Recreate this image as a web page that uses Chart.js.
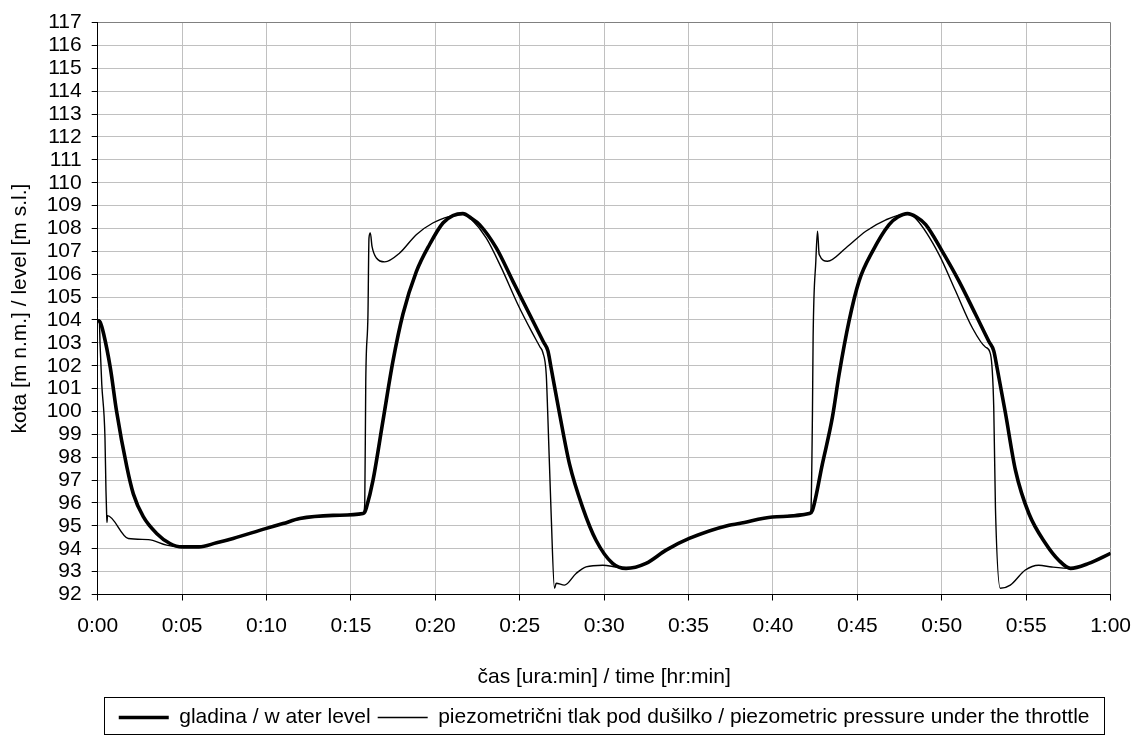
<!DOCTYPE html>
<html>
<head>
<meta charset="utf-8">
<script src="https://cdn.jsdelivr.net/npm/chart.js@4/dist/chart.umd.min.js"></script>
<style>
  html, body { margin: 0; padding: 0; background: #fff; }
  #wrap { width: 1144px; height: 735px; position: relative; }
</style>
</head>
<body>
<div id="wrap"><canvas id="chart"></canvas></div>
<script>
// time in minutes, level in m a.s.l.
const levelTime = [0, 0.15, 0.35, 0.75, 1.12, 1.72, 2.11, 2.7, 3.49, 4.28, 5.0, 6.0, 7.04, 8.02, 9.94, 10.98, 11.97, 13.94, 15.72, 15.82, 15.92, 16.31, 16.9, 17.49, 18.08, 18.87, 19.66, 20.45, 21.04, 21.63, 22.13, 22.62, 23.61, 24.59, 25.58, 26.4, 26.67, 26.86, 27.36, 27.95, 28.73, 29.52, 30.5, 31.3, 32.48, 33.67, 35.04, 37.4, 38.0, 39.97, 42.15, 42.34, 42.93, 43.52, 43.92, 44.51, 45.1, 45.9, 46.88, 47.4, 47.97, 48.5, 49.05, 50.03, 51.02, 52.0, 52.8, 53.08, 53.28, 53.78, 54.37, 55.16, 56.15, 56.93, 57.63, 58.71, 60];
const levelValue = [104.0, 103.9, 103.4, 101.9, 100.0, 97.6, 96.4, 95.4, 94.67, 94.23, 94.08, 94.08, 94.26, 94.45, 94.88, 95.1, 95.32, 95.46, 95.54, 95.6, 95.8, 97.0, 99.6, 102.2, 104.25, 106.1, 107.3, 108.24, 108.56, 108.65, 108.45, 108.17, 107.15, 105.7, 104.25, 103.05, 102.65, 101.9, 99.9, 97.7, 95.8, 94.37, 93.36, 93.14, 93.36, 93.94, 94.45, 95.03, 95.1, 95.39, 95.54, 95.68, 97.71, 99.74, 101.63, 103.96, 105.7, 107.0, 108.17, 108.5, 108.65, 108.5, 108.17, 107.0, 105.7, 104.25, 103.05, 102.65, 101.9, 99.9, 97.42, 95.54, 94.23, 93.5, 93.14, 93.36, 93.8];

const pressureTime = [0, 0.1, 0.14, 0.24, 0.43, 0.49, 0.53, 0.55, 0.58, 1.81, 3.0, 4.08, 4.9, 6.0, 7.04, 8.02, 9.94, 10.98, 11.97, 13.94, 15.72, 15.82, 15.88, 16.01, 16.07, 16.15, 16.25, 16.51, 17.0, 17.89, 18.87, 19.85, 20.85, 21.63, 22.13, 23.02, 23.9, 24.89, 25.7, 26.2, 26.37, 26.57, 26.66, 26.86, 27.06, 27.16, 27.65, 28.34, 28.93, 29.92, 30.7, 31.3, 32.48, 33.67, 35.04, 37.4, 38.0, 39.97, 42.15, 42.25, 42.34, 42.38, 42.54, 42.64, 42.74, 43.23, 44.32, 45.5, 46.69, 47.97, 48.5, 49.84, 50.8, 51.81, 52.6, 52.89, 53.08, 53.18, 53.47, 54.06, 54.95, 55.74, 56.52, 57.63, 58.71, 60];
const pressureValue = [104.0, 103.9, 102.94, 101.2, 98.87, 96.55, 95.5, 95.15, 95.45, 94.45, 94.4, 94.16, 94.08, 94.08, 94.26, 94.45, 94.88, 95.1, 95.32, 95.46, 95.54, 95.97, 101.34, 104.25, 107.58, 107.8, 107.22, 106.71, 106.54, 106.93, 107.73, 108.24, 108.53, 108.65, 108.4, 107.58, 106.3, 104.68, 103.5, 102.82, 102.58, 101.63, 99.9, 95.54, 92.27, 92.49, 92.41, 92.92, 93.21, 93.28, 93.2, 93.14, 93.36, 93.94, 94.45, 95.03, 95.1, 95.39, 95.54, 95.68, 99.9, 103.23, 106.57, 107.88, 106.86, 106.57, 107.15, 107.88, 108.38, 108.65, 108.4, 106.86, 105.3, 103.66, 102.81, 102.5, 100.18, 95.8, 92.27, 92.41, 93.07, 93.28, 93.2, 93.14, 93.36, 93.8];

const seriesLabels = [
  "gladina / w ater level",
  "piezometrični tlak pod dušilko / piezometric pressure under the throttle",
];
const xTitle = "čas [ura:min] / time [hr:min]";
const yTitle = "kota [m n.m.] / level [m s.l.]";
const xMin = 0, xMax = 60, xStep = 5;
const yMin = 92, yMax = 117, yStep = 1;

const toPoints = (xs, ys) => xs.map((x, i) => ({ x, y: ys[i] }));
const fmtTime = (v) => `${Math.floor(v / 60)}:${String(v % 60).padStart(2, "0")}`;

Chart.defaults.font.family = "'Liberation Sans', Arial, sans-serif";
Chart.defaults.font.size = 21;
Chart.defaults.color = "#000";

// frame around the legend, like the spreadsheet original
const legendFrame = {
  id: "legendFrame",
  afterDraw(chart) {
    if (!chart.legend) return;
    const { ctx, chartArea } = chart;
    const left = Math.round(chartArea.left + 6) + 0.5;
    const right = Math.round(chartArea.right - 7) + 0.5;
    const top = Math.round(chart.legend.top - 3) + 0.5;
    ctx.save();
    ctx.strokeStyle = "#000";
    ctx.lineWidth = 1;
    ctx.strokeRect(left, top, right - left, 37);
    ctx.restore();
  },
};

const gridColor = (edgeValue, axisValue) => (c) => {
  if (!c.tick) return "#c0c0c0";
  if (c.tick.value === axisValue) return "#000";
  if (c.tick.value === edgeValue) return "#808080";
  return "#c0c0c0";
};

new Chart(document.getElementById("chart"), {
  type: "line",
  data: {
    datasets: [
      {
        label: seriesLabels[0],
        data: toPoints(levelTime, levelValue),
        borderColor: "#000",
        borderWidth: 3.6,
        pointRadius: 0,
        pointBorderWidth: 3.6,
        pointBorderColor: "#000",
        pointStyle: "line",
        cubicInterpolationMode: "monotone",
        fill: false,
      },
      {
        label: seriesLabels[1],
        data: toPoints(pressureTime, pressureValue),
        borderColor: "#000",
        borderWidth: 1.4,
        pointRadius: 0,
        pointBorderWidth: 1.4,
        pointBorderColor: "#000",
        pointStyle: "line",
        cubicInterpolationMode: "monotone",
        fill: false,
      },
    ],
  },
  options: {
    responsive: true,
    maintainAspectRatio: false,
    animation: false,
    events: [],
    layout: {
      padding: { top: 20.5, right: 32.3, left: 0, bottom: -3 },
    },
    plugins: {
      tooltip: { enabled: false },
      legend: {
        position: "bottom",
        fullSize: false,
        labels: {
          usePointStyle: true,
          pointStyle: "line",
          pointStyleWidth: 50,
          padding: 7,
          color: "#000",
          font: { size: 21 },
        },
      },
    },
    scales: {
      x: {
        type: "linear",
        min: xMin,
        max: xMax,
        afterFit: (scale) => { scale.height = 105.5; },
        grid: {
          color: gridColor(xMax, xMin),
          tickColor: "#000",
          tickLength: 6,
          lineWidth: 1,
        },
        border: { color: "#000", width: 1 },
        ticks: {
          stepSize: xStep,
          autoSkip: false,
          maxRotation: 0,
          padding: 13,
          callback: (v) => fmtTime(v),
        },
        title: {
          display: true,
          text: xTitle,
          font: { size: 21 },
          padding: { top: 0, bottom: 10.4 },
        },
      },
      y: {
        min: yMin,
        max: yMax,
        afterFit: (scale) => { scale.width = 97.7; },
        grid: {
          color: gridColor(yMax, yMin),
          tickColor: "#000",
          tickLength: 6,
          lineWidth: 1,
        },
        border: { color: "#000", width: 1 },
        ticks: {
          stepSize: yStep,
          autoSkip: false,
          padding: 10,
        },
        title: {
          display: true,
          text: yTitle,
          font: { size: 21 },
          padding: { top: 8, bottom: 0 },
        },
      },
    },
  },
  plugins: [legendFrame],
});
</script>
</body>
</html>
